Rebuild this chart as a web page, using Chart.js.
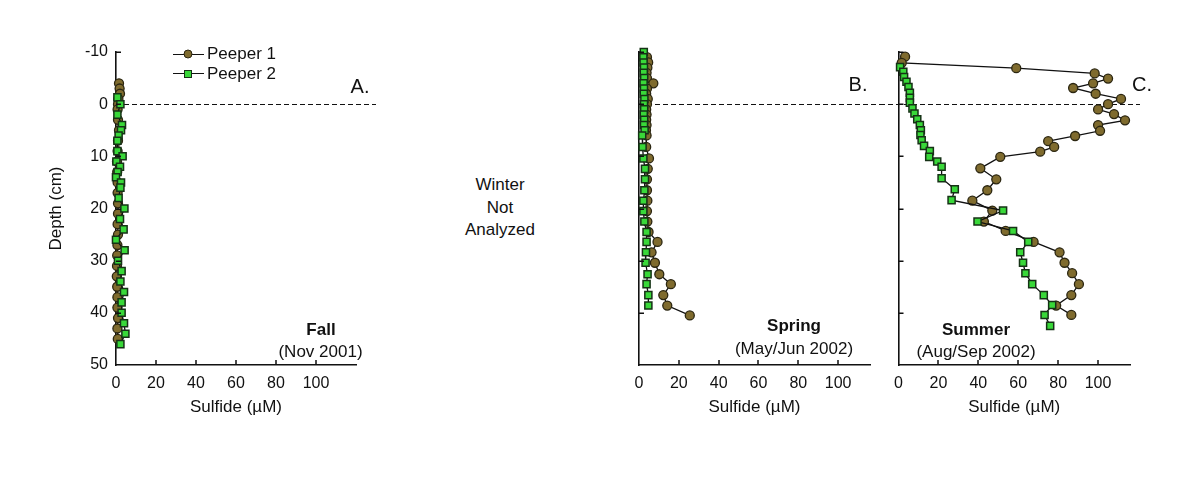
<!DOCTYPE html>
<html><head><meta charset="utf-8">
<script src="https://cdn.jsdelivr.net/npm/chart.js@4"></script>
<style>
html,body{margin:0;padding:0;background:#fff;}
body{width:1200px;height:478px;position:relative;overflow:hidden;font-family:"Liberation Sans",Arial,sans-serif;color:#111;}
canvas{position:absolute;top:0;}
.t{position:absolute;white-space:nowrap;transform:translate(-50%,-50%);font-size:17px;line-height:20px;text-align:center;}
.tl{position:absolute;white-space:nowrap;transform:translateY(-50%);font-size:17px;line-height:20px;}
.lg-line{position:absolute;height:1.4px;background:#111;}
.lg-c{position:absolute;width:7px;height:7px;border-radius:50%;background:#7f6b2e;border:1.4px solid #2b2611;transform:translate(-50%,-50%);}
.lg-s{position:absolute;width:6px;height:6px;background:#39d839;border:1.5px solid #163216;transform:translate(-50%,-50%);}
</style></head><body>
<canvas id="cA" width="400" height="478" style="left:0px"></canvas>
<canvas id="cB" width="285" height="478" style="left:600px"></canvas>
<canvas id="cC" width="340" height="478" style="left:860px"></canvas>

<div class="lg-line" style="left:173px;top:53.5px;width:31px"></div>
<div class="lg-c" style="left:188px;top:54px"></div>
<div class="tl" style="left:207px;top:54px">Peeper 1</div>
<div class="lg-line" style="left:173px;top:72.8px;width:31px"></div>
<div class="lg-s" style="left:188px;top:73.5px"></div>
<div class="tl" style="left:207px;top:73.5px">Peeper 2</div>

<div class="t" style="left:360px;top:86px;font-size:20px">A.</div>
<div class="t" style="left:858px;top:84px;font-size:20px">B.</div>
<div class="t" style="left:1142px;top:84px;font-size:20px">C.</div>

<div class="t" style="left:321px;top:330px;font-weight:bold">Fall</div>
<div class="t" style="left:320.5px;top:352px">(Nov 2001)</div>
<div class="t" style="left:794px;top:326px;font-weight:bold">Spring</div>
<div class="t" style="left:794px;top:348.5px">(May/Jun 2002)</div>
<div class="t" style="left:976px;top:329.5px;font-weight:bold">Summer</div>
<div class="t" style="left:976px;top:352px">(Aug/Sep 2002)</div>

<div class="t" style="left:500px;top:208px;line-height:22.5px">Winter<br>Not<br>Analyzed</div>

<script>
// ---- Data (depth in cm, sulfide in µM) ----
const fallDepth1 = [-4,-3,-2,-1,0,1,3,5,7,9,11,13,15,17,19,21,23,25,27,29,31,33,35,37,39,41,43,45];
const fallSulfide1 = [1.5,1.8,2.0,1.2,1.0,0.8,1.0,1.5,1.0,0.8,0.5,0.6,0.8,0.8,1.0,1.0,0.8,1.0,0.7,0.6,0.5,0.4,0.6,0.7,0.7,1.0,0.7,0.9];
const fallDepth2 = [-1.3,0,2,4,5,6,7,9,10,11,12,13,14,15,16,18,20,22,24,26,28,30,32,34,36,38,40,42,44,46];
const fallSulfide2 = [0.7,2.2,0.7,3.0,2.5,1.3,0.7,0.7,3.3,0.2,2.0,0.8,0.0,2.5,2.2,1.3,4.2,2.0,3.8,0.0,4.3,1.0,2.8,2.2,4.0,2.8,2.8,4.0,4.7,2.2];

const springDepth1 = [-9,-8,-7,-6,-5,-4,-3,-2,-1,0,1,2,3,4,5,6,8.2,10.4,12.4,14.4,16.5,18.5,20.5,22.5,24.5,26.4,28.4,30.4,32.6,34.5,36.6,38.6,40.5];
const springSulfide1 = [4.0,4.6,4.2,3.8,4.0,7.2,4.0,3.6,4.4,4.0,3.6,3.8,3.6,3.8,3.5,3.8,3.6,5.0,4.4,4.0,4.0,4.2,4.0,4.2,4.8,9.3,6.3,8.0,10.2,16.0,12.2,14.2,25.5];
const springDepth2 = [-10,-9,-8,-7,-6,-5,-4,-3,-2,-1,0,1,2,3,4,5,6,8.2,10.4,12.4,14.4,16.5,18.5,20.5,22.5,24.5,26.4,28.4,30.4,32.6,34.5,36.6,38.6];
const springSulfide2 = [2.4,2.2,2.3,2.5,2.4,2.6,2.3,2.5,2.4,2.7,2.5,2.6,2.4,2.6,2.5,2.8,1.6,1.8,2.2,3.0,3.0,2.7,2.2,2.2,2.7,3.8,3.8,3.5,3.3,4.3,3.8,4.7,4.7];

const summerDepth1 = [-9.1,-7.9,-6.9,-5.9,-4.9,-4.0,-3.1,-2.0,-1.0,0,1.0,1.9,3.1,4.0,5.1,6.1,7.1,8.2,9.1,10.1,12.3,14.4,16.5,18.5,20.4,22.5,24.3,26.4,28.4,30.4,32.4,34.5,36.6,38.6,40.4];
const summerSulfide1 = [3.3,1.6,59,98.3,105,97.5,87.5,98.8,111.5,105,100,108,113.5,100,101,88.5,75,78,71,51,41,49,44.5,37,47,42.8,53.7,67.7,80.7,83.2,87,90.4,86.6,79,86.6];
const summerDepth2 = [-7.1,-6.2,-5.2,-4.3,-3.3,-2.2,-1.2,-0.3,0.8,1.8,2.9,4.0,5.0,5.9,6.9,8.0,9.0,10.1,11.0,12.0,14.2,16.3,18.4,20.4,22.5,24.3,26.4,28.4,30.4,32.4,34.5,36.6,38.5,40.4,42.5];
const summerSulfide2 = [0.8,2.4,2.8,4.0,5.0,5.7,5.7,5.7,7.0,8.0,9.4,10.7,11.2,11.0,11.6,12.8,15.7,15.4,19.4,21.6,21.6,28.2,26.6,52.4,39.6,57.4,65.0,61.0,62.4,63.6,67.0,72.8,77.0,73.2,76.0];

const depthMin = -10, depthMax = 50, depthStep = 10;
const sulfideStep = 20, sulfideLabelMax = 100;
const seriesNames = ['Peeper 1', 'Peeper 2'];

Chart.defaults.font.family = '"Liberation Sans", Arial, sans-serif';
Chart.defaults.color = '#111';

function pts(depths, vals) { return depths.map((d, i) => ({x: vals[i], y: d})); }

const axisDecor = {
  id: 'axisDecor',
  beforeDatasetsDraw(chart, args, opts) {
    const {ctx, chartArea} = chart;
    const y0 = Math.round(chart.scales.y.getPixelForValue(0)) + 0.5;
    ctx.save();
    ctx.setLineDash([5, 3]);
    ctx.strokeStyle = '#111';
    ctx.lineWidth = 1.1;
    ctx.beginPath();
    ctx.moveTo(chartArea.left + opts.dashFrom, y0);
    ctx.lineTo(chartArea.right + opts.dashTo, y0);
    ctx.stroke();
    ctx.restore();
  },
  afterDraw(chart) {
    const {ctx, chartArea} = chart;
    const xs = chart.scales.x, ys = chart.scales.y;
    ctx.save();
    ctx.strokeStyle = '#111';
    ctx.lineWidth = 1.5;
    ctx.beginPath();
    xs.ticks.forEach(t => {
      if (t.value > 0 && t.value <= sulfideLabelMax) {
        const px = Math.round(xs.getPixelForValue(t.value));
        ctx.moveTo(px, chartArea.bottom);
        ctx.lineTo(px, chartArea.bottom - 5);
      }
    });
    ys.ticks.forEach(t => {
      if (t.value < depthMax) {
        const py = Math.round(ys.getPixelForValue(t.value)) + 0.25;
        ctx.moveTo(chartArea.left, py);
        ctx.lineTo(chartArea.left + 5, py);
      }
    });
    ctx.stroke();
    ctx.restore();
  }
};

function makePanel(id, d1, s1, d2, s2, o) {
  return new Chart(document.getElementById(id), {
    type: 'scatter',
    data: {
      datasets: [
        { label: seriesNames[1], data: pts(d2, s2), showLine: true, order: 1, clip: false,
          borderColor: '#111', borderWidth: 1.3,
          pointStyle: 'rect', pointRadius: 5, pointBackgroundColor: '#39d839',
          pointBorderColor: '#163216', pointBorderWidth: 1.5 },
        { label: seriesNames[0], data: pts(d1, s1), showLine: true, order: 2, clip: false,
          borderColor: '#111', borderWidth: 1.3,
          pointStyle: 'circle', pointRadius: 4.5, pointBackgroundColor: '#7f6b2e',
          pointBorderColor: '#2b2611', pointBorderWidth: 1.3 }
      ]
    },
    options: {
      responsive: false, animation: false, events: [],
      layout: { padding: { left: 0, top: 52, right: o.padRight, bottom: 60.7 } },
      plugins: { legend: { display: false }, tooltip: { enabled: false },
                 axisDecor: { dashFrom: o.dashFrom, dashTo: o.dashTo } },
      scales: {
        x: {
          type: 'linear', position: 'bottom', min: 0, max: o.xMax,
          grid: { display: false, drawTicks: false },
          border: { display: true, color: '#111', width: 1.6 },
          ticks: { stepSize: sulfideStep, includeBounds: false, autoSkip: false, maxRotation: 0,
                   padding: 9, font: { size: 16 },
                   callback: v => (v <= sulfideLabelMax ? v : null) },
          title: { display: true, text: 'Sulfide (µM)', font: { size: 17 }, padding: { top: 0, bottom: 0 } },
          afterFit: s => { s.height = 52.3; }
        },
        y: {
          type: 'linear', position: 'left', reverse: true, min: depthMin, max: depthMax,
          grid: { display: false, drawTicks: false },
          border: { display: true, color: '#111', width: 1.6 },
          ticks: { display: o.yLabels, stepSize: depthStep, padding: 8, font: { size: 16 } },
          title: { display: o.yLabels, text: 'Depth (cm)', font: { size: 17 }, padding: { top: 46, bottom: 0 } },
          afterFit: s => { s.width = o.yWidth; }
        }
      }
    },
    plugins: [axisDecor]
  });
}

makePanel('cA', fallDepth1, fallSulfide1, fallDepth2, fallSulfide2,
  { xMax: 120, padRight: 44, yWidth: 116, yLabels: true, dashFrom: 0, dashTo: 20 });
makePanel('cB', springDepth1, springSulfide1, springDepth2, springSulfide2,
  { xMax: 116, padRight: 15, yWidth: 39, yLabels: false, dashFrom: 0, dashTo: 10 });
makePanel('cC', summerDepth1, summerSulfide1, summerDepth2, summerSulfide2,
  { xMax: 116, padRight: 70, yWidth: 38.5, yLabels: false, dashFrom: -18.5, dashTo: 10 });
</script>
</body></html>
